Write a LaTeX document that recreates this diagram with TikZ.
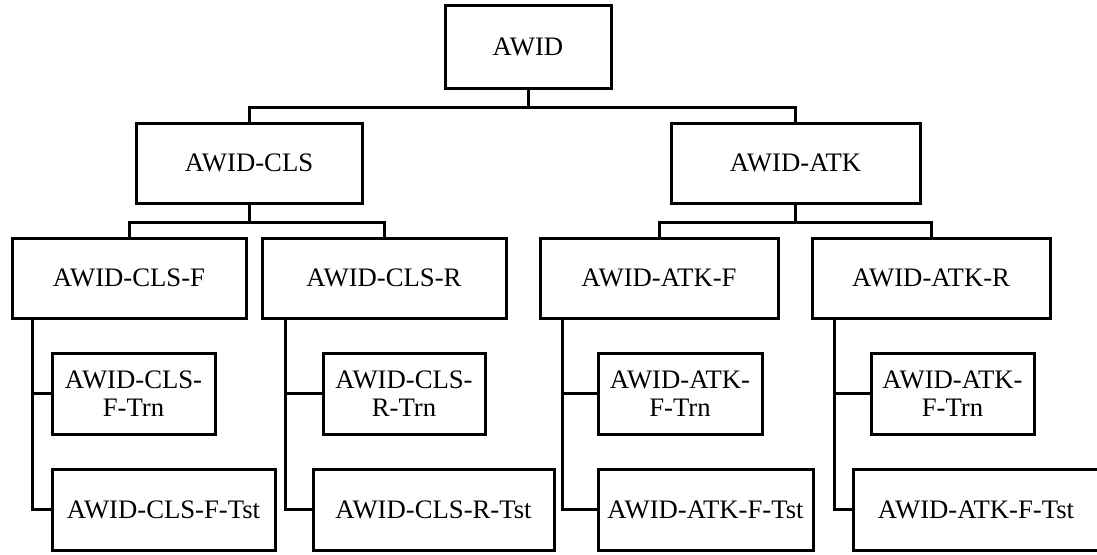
\documentclass[tikz,border=0pt]{standalone}
\usepackage{fontspec}
\setmainfont{Liberation Serif}

\begin{document}
\begin{tikzpicture}[x=1pt,y=-1pt,
  box/.style={draw,line width=3pt,inner sep=0pt,minimum height=80pt,align=center,
    font=\fontsize{26.7}{28}\selectfont},
  link/.style={line width=3pt}]
\useasboundingbox (0,0) rectangle (1097,554);
\node[box,minimum width=166pt,minimum height=83pt] (awid) at (528,46.5) {AWID};
\node[box,minimum width=226pt] (cls) at (249,163) {AWID-CLS};
\node[box,minimum width=249pt] (atk) at (795.5,163) {AWID-ATK};
\node[box,minimum width=234pt] (clsF) at (129,278) {AWID-CLS-F};
\node[box,minimum width=244pt] (clsR) at (384,278) {AWID-CLS-R};
\node[box,minimum width=238pt] (atkF) at (659,278) {AWID-ATK-F};
\node[box,minimum width=238pt] (atkR) at (931,278) {AWID-ATK-R};
\node[box,minimum width=163pt,minimum height=81pt] (clsFTrn) at (133.5,393.5) {AWID-CLS-\\F-Trn};
\node[box,minimum width=223pt,minimum height=81pt] (clsFTst) at (163.5,509.5) {AWID-CLS-F-Tst};
\node[box,minimum width=162pt,minimum height=81pt] (clsRTrn) at (404,393.5) {AWID-CLS-\\R-Trn};
\node[box,minimum width=241pt,minimum height=81pt] (clsRTst) at (433.5,509.5) {AWID-CLS-R-Tst};
\node[box,minimum width=164pt,minimum height=81pt] (atkFTrn) at (680,393.5) {AWID-ATK-\\F-Trn};
\node[box,minimum width=215pt,minimum height=81pt] (atkFTst) at (705.5,509.5) {AWID-ATK-F-Tst};
\node[box,minimum width=163pt,minimum height=81pt] (atkRTrn) at (952.5,393.5) {AWID-ATK-\\F-Trn};
\node[box,minimum width=246pt,minimum height=81pt] (atkRTst) at (976,509.5) {AWID-ATK-F-Tst};
\draw[link] (awid.south) -- ++(0,18) coordinate (awidBus);
\draw[link] (cls.north) |- (awidBus) -| (atk.north);
\draw[link] (cls.south) -- ++(0,18) coordinate (clsBus);
\draw[link] (clsF.north) |- (clsBus) -| (clsR.north);
\draw[link] (atk.south) -- ++(0,18) coordinate (atkBus);
\draw[link] (atkF.north) |- (atkBus) -| (atkR.north);
\foreach \g/\dx in {clsF/22,clsR/25,atkF/24,atkR/24} {
  \coordinate (\g Bar) at ([xshift=\dx pt]\g.south west);
  \draw[link] (\g Bar) |- (\g Tst.west);
  \draw[link] (\g Trn.west) -- (\g Trn.west -| \g Bar);
}
\end{tikzpicture}
\end{document}
